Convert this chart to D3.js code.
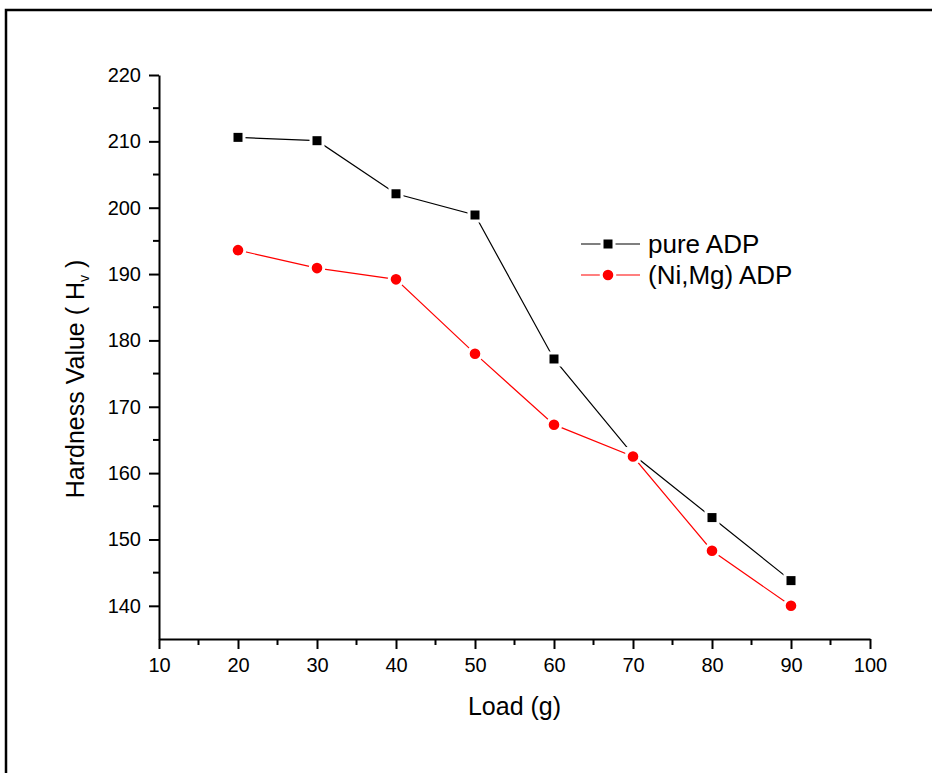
<!DOCTYPE html>
<html>
  <head>
    <meta charset="utf-8">
    <script src="https://d3js.org/d3.v7.min.js"></script>
    <title>Hardness vs Load</title>
    <style>
      body {
        margin: 0px;
        background: #fff;
        overflow: hidden;
      }
      svg {
        display: block;
      }
      .domain, .tick line {
        stroke: #000;
        stroke-width: 2px;
      }
      .tick text {
        fill: #000;
        font-size: 20px;
        font-family: "Liberation Sans", Arial, sans-serif;
      }
      .axis-label, .legend-label {
        fill: #000;
        font-family: "Liberation Sans", Arial, sans-serif;
      }
    </style>
  </head>
  <body>
    <div id="viz1"></div>
    <script>
      // data
      const loads = [20, 30, 40, 50, 60, 70, 80, 90];
      const pureADP = [210.6, 210.1, 202.1, 198.9, 177.2, 162.8, 153.3, 143.8];
      const niMgADP = [193.6, 190.9, 189.2, 178.0, 167.3, 162.5, 148.3, 140.0];
      const xTicks = [10, 20, 30, 40, 50, 60, 70, 80, 90, 100];
      const yTicks = [140, 150, 160, 170, 180, 190, 200, 210, 220];
      const xMinor = [15, 25, 35, 45, 55, 65, 75, 85, 95];
      const yMinor = [145, 155, 165, 175, 185, 195, 205, 215];
      const seriesNames = ['pure ADP', '(Ni,Mg) ADP'];
      const seriesColors = ['#000000', '#ff0000'];

      const width = 932, height = 773;
      const margin = { left: 159, right: 62, top: 75, bottom: 134 };

      const svg = d3.select('#viz1').append('svg')
        .attr('width', width)
        .attr('height', height);

      // outer frame (only left and top edges fall inside the picture)
      svg.append('path')
        .attr('d', `M6,${height} V10 H${width}`)
        .attr('fill', 'none')
        .attr('stroke', '#000')
        .attr('stroke-width', 2.5);

      const innerWidth = width - margin.left - margin.right;
      const innerHeight = height - margin.top - margin.bottom;

      const g = svg.append('g')
        .attr('transform', `translate(${margin.left},${margin.top})`);

      const xScale = d3.scaleLinear().domain([10, 100]).range([0, innerWidth]);
      const yScale = d3.scaleLinear().domain([135, 220]).range([innerHeight, 0]);

      // minor ticks
      g.selectAll('.x-minor').data(xMinor)
        .enter().append('line')
          .attr('x1', d => xScale(d)).attr('x2', d => xScale(d))
          .attr('y1', innerHeight).attr('y2', innerHeight + 6)
          .attr('stroke', '#000').attr('stroke-width', 2);
      g.selectAll('.y-minor').data(yMinor)
        .enter().append('line')
          .attr('y1', d => yScale(d)).attr('y2', d => yScale(d))
          .attr('x1', 0).attr('x2', -6)
          .attr('stroke', '#000').attr('stroke-width', 2);

      const xAxisG = g.append('g')
        .attr('transform', `translate(0, ${innerHeight})`)
        .call(d3.axisBottom(xScale).tickValues(xTicks).tickSize(10).tickSizeOuter(0).tickPadding(9));
      const yAxisG = g.append('g')
        .call(d3.axisLeft(yScale).tickValues(yTicks).tickSize(10).tickSizeOuter(0).tickPadding(8));

      // axis titles
      svg.append('text')
        .attr('class', 'axis-label')
        .attr('x', margin.left + innerWidth / 2)
        .attr('y', 715)
        .attr('text-anchor', 'middle')
        .style('font-size', '25px')
        .text('Load (g)');

      const yTitle = svg.append('text')
        .attr('class', 'axis-label')
        .attr('transform', 'translate(84, 379) rotate(-90)')
        .attr('text-anchor', 'middle')
        .style('font-size', '25px');
      yTitle.append('tspan').text('Hardness Value ( H');
      yTitle.append('tspan').attr('dy', 5).style('font-size', '14px').text('v');
      yTitle.append('tspan').attr('dy', -5).text(' )');

      const series = [pureADP, niMgADP];

      series.forEach((vals, i) => {
        const pts = loads.map((x, j) => [x, vals[j]]);
        g.append('path')
          .datum(pts)
          .attr('fill', 'none')
          .attr('stroke', seriesColors[i])
          .attr('stroke-width', 1.2)
          .attr('d', d3.line().x(d => xScale(d[0])).y(d => yScale(d[1])));
      });

      // markers, white outline leaves the small gap at the line ends
      const drawMarker = (sel, i, cx, cy) => {
        if (i === 0) {
          sel.append('rect')
            .attr('x', cx - 6).attr('y', cy - 6)
            .attr('width', 12).attr('height', 12)
            .attr('fill', seriesColors[i])
            .attr('stroke', '#fff').attr('stroke-width', 3);
        } else {
          sel.append('circle')
            .attr('cx', cx).attr('cy', cy).attr('r', 6.8)
            .attr('fill', seriesColors[i])
            .attr('stroke', '#fff').attr('stroke-width', 3);
        }
      };

      series.forEach((vals, i) => {
        loads.forEach((x, j) => drawMarker(g, i, xScale(x), yScale(vals[j])));
      });

      // legend
      const legendG = svg.append('g').attr('transform', 'translate(581, 244)');
      seriesNames.forEach((name, i) => {
        const row = legendG.append('g').attr('transform', `translate(0, ${i * 31})`);
        row.append('line')
          .attr('x1', 0).attr('x2', 59)
          .attr('stroke', seriesColors[i]).attr('stroke-width', 1.2);
        drawMarker(row, i, 27, 0);
        row.append('text')
          .attr('class', 'legend-label')
          .attr('x', 67).attr('y', 9)
          .style('font-size', '26px')
          .text(name);
      });
    </script>
  </body>
</html>
